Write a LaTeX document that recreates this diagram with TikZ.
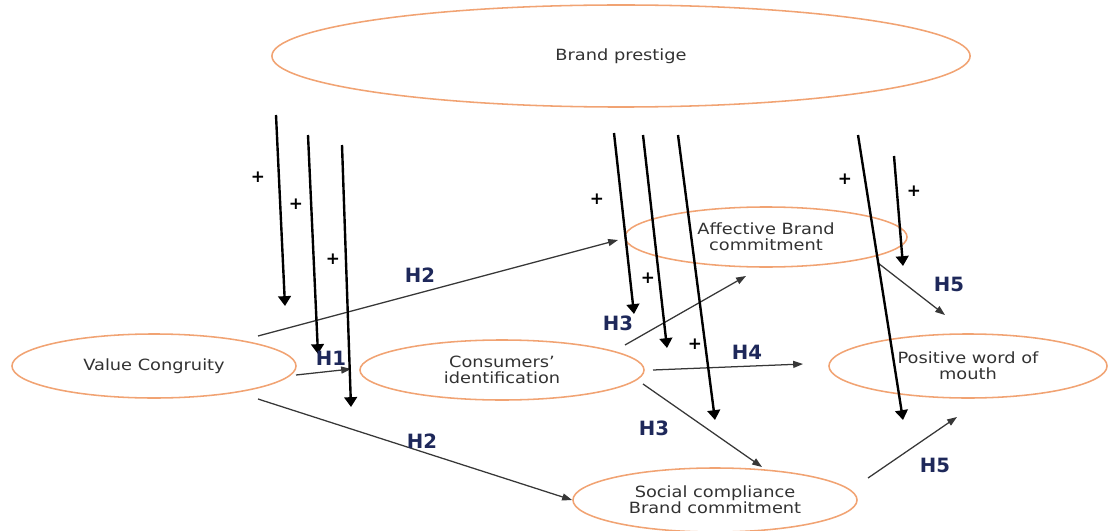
\documentclass[tikz,border=0pt]{standalone}
\usepackage{fontspec}
\setmainfont{DejaVu Sans}
\newfontfamily\ovalfont[FakeStretch=1.15]{DejaVu Sans}
\usetikzlibrary{arrows.meta,shapes.geometric}

\definecolor{ovalline}{RGB}{241,163,115}
\definecolor{labelgray}{RGB}{50,50,50}
\definecolor{pathgray}{RGB}{55,55,55}
\definecolor{hypnavy}{RGB}{30,40,90}

\begin{document}
\begin{tikzpicture}[
    x=0.025cm, y=-0.025cm,
    construct/.style={ellipse, draw=ovalline, line width=1.1pt, text=labelgray,
        font=\ovalfont\fontsize{11}{11.5}\selectfont, align=center, inner sep=0pt},
    moderator/.style={line width=1.7pt, -{Triangle[width=9pt,length=7pt]}},
    link/.style={line width=0.9pt, draw=pathgray, -{Triangle[width=5pt,length=7pt]}},
    hyp/.style={font=\fontsize{14}{16}\selectfont\bfseries, text=hypnavy},
    plus/.style={font=\fontsize{12}{14}\selectfont\bfseries}
]
    \useasboundingbox (0,0) rectangle (1108,531);

    % Конструкты (овалы)
    \node[construct, minimum width=17.45cm, minimum height=2.55cm] (prestige) at (621,56) {Brand prestige};
    \node[construct, minimum width=7.05cm, minimum height=1.5cm] (affective) at (766,237) {Affective Brand\\commitment};
    \node[construct, minimum width=7.1cm, minimum height=1.6cm] (congruity) at (154,366) {Value Congruity};
    \node[construct, minimum width=7.1cm, minimum height=1.5cm] (identification) at (502,370) {Consumers’\\identification};
    \node[construct, minimum width=6.95cm, minimum height=1.6cm] (wom) at (968,366) {Positive word of\\mouth};
    \node[construct, minimum width=7.1cm, minimum height=1.6cm] (social) at (715,500) {Social compliance\\Brand commitment};

    % Концы стрелок модератора
    \coordinate (m1s) at (276,115); \coordinate (m1e) at (285,306);
    \coordinate (m2s) at (308,135); \coordinate (m2e) at (318,354);
    \coordinate (m3s) at (342,145); \coordinate (m3e) at (351,407);
    \coordinate (m4s) at (614,133); \coordinate (m4e) at (634,314);
    \coordinate (m5s) at (643,135); \coordinate (m5e) at (667,348);
    \coordinate (m6s) at (678,135); \coordinate (m6e) at (715,420);
    \coordinate (m7s) at (858,135); \coordinate (m7e) at (903,420);
    \coordinate (m8s) at (894,156); \coordinate (m8e) at (903,266);

    % Концы стрелок гипотез
    \coordinate (h2as) at (258,336); \coordinate (h2ae) at (618,240);
    \coordinate (h1s) at (296,375);  \coordinate (h1e) at (351,369);
    \coordinate (h2bs) at (258,399); \coordinate (h2be) at (572,500);
    \coordinate (h3as) at (625,345); \coordinate (h3ae) at (746,276);
    \coordinate (h4s) at (653,370);  \coordinate (h4e) at (803,364);
    \coordinate (h3bs) at (643,384); \coordinate (h3be) at (762,467);
    \coordinate (h5as) at (878,263); \coordinate (h5ae) at (945,315);
    \coordinate (h5bs) at (868,478); \coordinate (h5be) at (957,417);

    % Связи между конструктами
    \draw[link] (h2as) -- (h2ae);
    \draw[link] (h1s) -- (h1e);
    \draw[link] (h2bs) -- (h2be);
    \draw[link] (h3as) -- (h3ae);
    \draw[link] (h4s) -- (h4e);
    \draw[link] (h3bs) -- (h3be);
    \draw[link] (h5as) -- (h5ae);
    \draw[link] (h5bs) -- (h5be);

    % Влияние престижа бренда (жирные стрелки)
    \draw[moderator] (m1s) -- (m1e);
    \draw[moderator] (m2s) -- (m2e);
    \draw[moderator] (m3s) -- (m3e);
    \draw[moderator] (m4s) -- (m4e);
    \draw[moderator] (m5s) -- (m5e);
    \draw[moderator] (m6s) -- (m6e);
    \draw[moderator] (m7s) -- (m7e);
    \draw[moderator] (m8s) -- (m8e);

    % Знаки "+"
    \node[plus] (pl1) at (258,177) {+};
    \node[plus] (pl2) at (296,204) {+};
    \node[plus] (pl3) at (333,259) {+};
    \node[plus] (pl4) at (597,199) {+};
    \node[plus] (pl5) at (648,278) {+};
    \node[plus] (pl6) at (695,344) {+};
    \node[plus] (pl7) at (845,179) {+};
    \node[plus] (pl8) at (914,191) {+};

    % Подписи гипотез
    \node[hyp] (lh2a) at (420,275) {H2};
    \node[hyp] (lh1) at (331,358) {H1};
    \node[hyp] (lh2b) at (422,441) {H2};
    \node[hyp] (lh3a) at (618,323) {H3};
    \node[hyp] (lh4) at (747,352) {H4};
    \node[hyp] (lh3b) at (654,428) {H3};
    \node[hyp] (lh5a) at (949,284) {H5};
    \node[hyp] (lh5b) at (935,465) {H5};
\end{tikzpicture}
\end{document}
